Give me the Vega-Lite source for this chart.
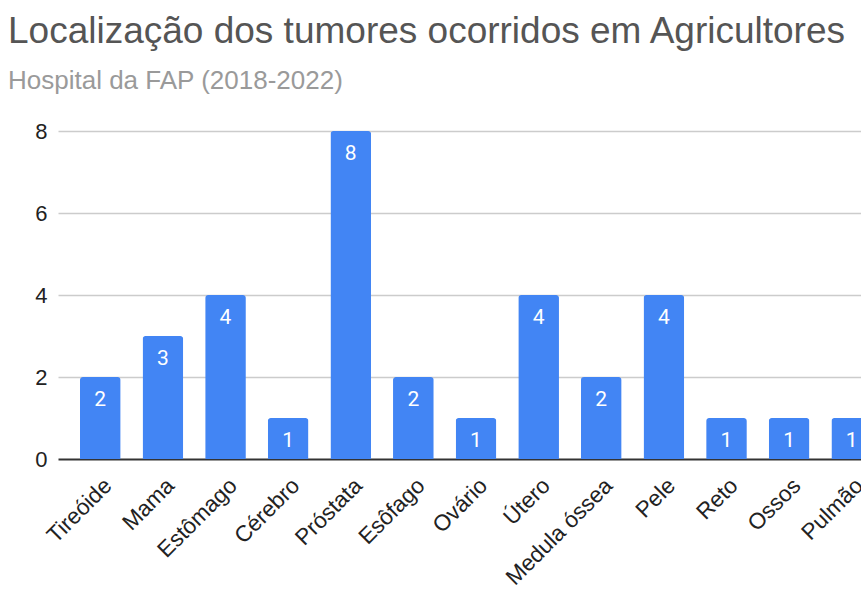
{
  "$schema": "https://vega.github.io/schema/vega-lite/v6.json",
  "autosize": "none",
  "width": 803,
  "height": 328,
  "padding": {"left": 58, "top": 131, "right": 0, "bottom": 132},
  "background": "white",
  "title": {
    "text": "Localização dos tumores ocorridos em Agricultores",
    "subtitle": "Hospital da FAP (2018-2022)",
    "anchor": "start",
    "frame": "group",
    "dx": -50,
    "offset": 25,
    "font": "Liberation Sans",
    "fontSize": 37,
    "fontWeight": "normal",
    "color": "#555555",
    "subtitleFont": "Liberation Sans",
    "subtitleFontSize": 26,
    "subtitleColor": "#9a9a9a",
    "subtitlePadding": 17
  },
  "config": {"view": {"stroke": null}},
  "data": {
    "values": [
      {"local": "Tireóide", "n": 2},
      {"local": "Mama", "n": 3},
      {"local": "Estômago", "n": 4},
      {"local": "Cérebro", "n": 1},
      {"local": "Próstata", "n": 8},
      {"local": "Esôfago", "n": 2},
      {"local": "Ovário", "n": 1},
      {"local": "Útero", "n": 4},
      {"local": "Medula óssea", "n": 2},
      {"local": "Pele", "n": 4},
      {"local": "Reto", "n": 1},
      {"local": "Ossos", "n": 1},
      {"local": "Pulmão", "n": 1}
    ]
  },
  "encoding": {
    "x": {
      "field": "local",
      "type": "nominal",
      "sort": null,
      "scale": {"range": [0, 836], "paddingInner": 0.35, "paddingOuter": 0.35},
      "axis": {
        "title": null,
        "labelAngle": -45,
        "labelFont": "Liberation Sans",
        "labelFontSize": 22.5,
        "labelColor": "#222222",
        "labelPadding": 15,
        "domain": false,
        "ticks": false
      }
    },
    "y": {
      "field": "n",
      "type": "quantitative",
      "scale": {"domain": [0, 8], "nice": false},
      "axis": {
        "title": null,
        "values": [0, 2, 4, 6, 8],
        "labelFont": "Liberation Sans",
        "labelFontSize": 22,
        "labelColor": "#222222",
        "labelPadding": 11,
        "domain": false,
        "ticks": false,
        "gridColor": {"condition": {"test": "datum.value === 0", "value": "#333333"}, "value": "#cccccc"},
        "gridWidth": {"condition": {"test": "datum.value === 0", "value": 2}, "value": 1.5}
      }
    }
  },
  "layer": [
    {
      "mark": {"type": "bar", "color": "#4285F4", "cornerRadiusTopLeft": 3, "cornerRadiusTopRight": 3}
    },
    {
      "mark": {"type": "text", "color": "white", "font": "Roboto", "fontSize": 21, "baseline": "top", "dy": 12},
      "encoding": {"text": {"field": "n", "type": "quantitative"}}
    }
  ]
}
